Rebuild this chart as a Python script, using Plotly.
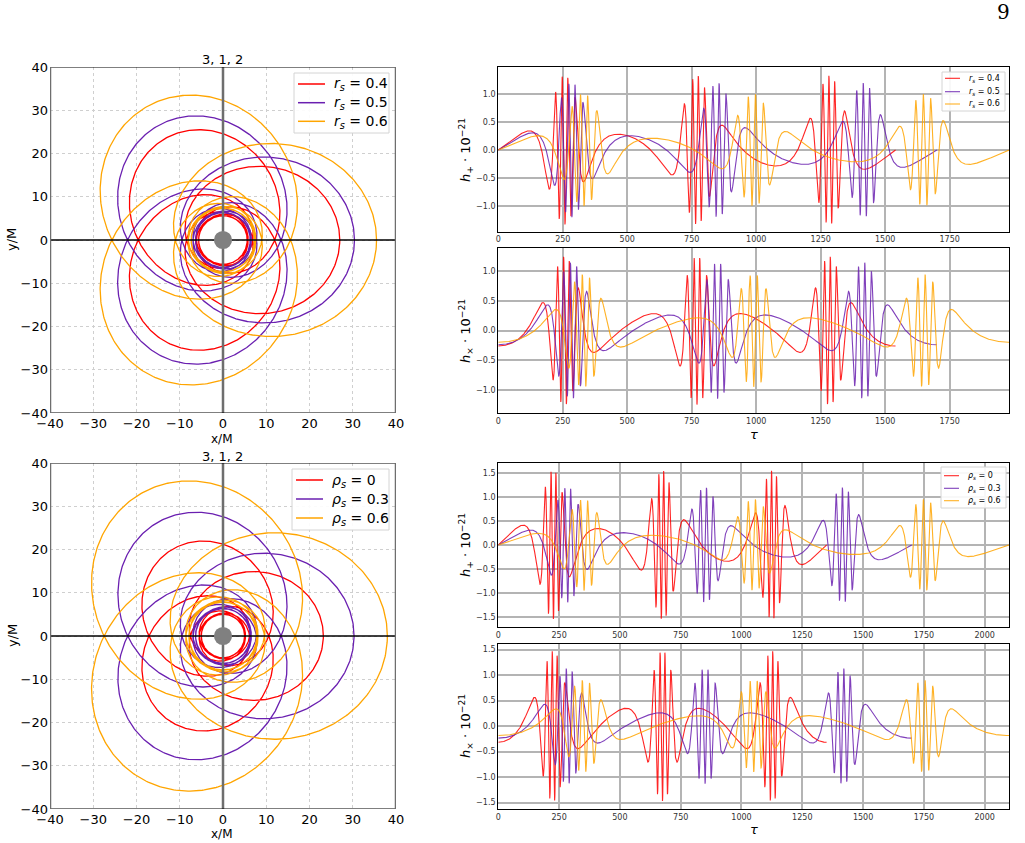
import numpy as np
import plotly.graph_objects as go

# ---------------- values ----------------
COLORS = ["#ff0000", "#6a1fb0", "#ffa500"]

ORBIT_Z, ORBIT_W, ORBIT_V = 3, 1, 2          # periodic orbit (z, w, v)

RS_LABELS = ["0.4", "0.5", "0.6"]
RS_APO = [27.0, 30.4, 35.5]                 # apoapsis radius  (x/M)
RS_PERI = [5.6, 6.3, 7.3]                   # whirl radius
RS_TAU_END = [1540.0, 1700.0, 1980.0]       # end of waveform (tau)
RS_HPLUS_PEAK = [1.33, 1.20, 1.00]
RS_HCROSS_PEAK = [1.25, 1.15, 0.95]

RHO_LABELS = ["0", "0.3", "0.6"]
RHO_APO = [23.2, 30.3, 38.0]
RHO_PERI = [5.0, 6.3, 7.8]
RHO_TAU_END = [1350.0, 1700.0, 2100.0]
RHO_HPLUS_PEAK = [1.55, 1.20, 0.95]
RHO_HCROSS_PEAK = [1.47, 1.13, 0.90]

ORBIT_TICKS = [-40, -30, -20, -10, 0, 10, 20, 30, 40]
TOP_TAU_TICKS = [0, 250, 500, 750, 1000, 1250, 1500, 1750]
BOT_TAU_TICKS = [0, 250, 500, 750, 1000, 1250, 1500, 1750, 2000]
TOP_H_TICKS = [-1.0, -0.5, 0.0, 0.5, 1.0]
BOT_H_TICKS = [-1.5, -1.0, -0.5, 0.0, 0.5, 1.0, 1.5]


def cumtrap(f, x):
    return np.concatenate([[0.0], np.cumsum(0.5 * (f[1:] + f[:-1]) * np.diff(x))])


def build_orbit(r_apo, r_peri, tau_end, n_fine=150001, n_out=4000):
    p = 2.0 * r_apo * r_peri / (r_apo + r_peri)
    e = (r_apo - r_peri) / (r_apo + r_peri)
    chi = np.linspace(np.pi, np.pi + 2.0 * np.pi * ORBIT_Z, n_fine)
    cosc = np.cos(chi)
    # azimuth swept per radial period: 2*pi*(1 + q), q = w + v/z
    target = 2.0 * np.pi * (1.0 + ORBIT_W + ORBIT_V / ORBIT_Z) * ORBIT_Z

    def total_phi(m):
        return np.trapezoid(np.sqrt(p / (p - 2.0 * m * (3.0 + e * cosc))), chi)

    lo, hi = 1e-6, p / (6.0 + 2.0 * e) * (1.0 - 1e-12)
    for _ in range(90):
        mid = 0.5 * (lo + hi)
        if total_phi(mid) < target:
            lo = mid
        else:
            hi = mid
    m = 0.5 * (lo + hi)
    g = np.sqrt(p / (p - 2.0 * m * (3.0 + e * cosc)))
    phi = cumtrap(g, chi)
    phi *= target / phi[-1]
    r = p / (1.0 + e * cosc)
    L = np.sqrt(p * p * m / (p - m * (3.0 + e * e)))
    tau = cumtrap(r * r / L * g, chi)
    tau *= tau_end / tau[-1]

    phi_u = np.linspace(0.0, phi[-1], n_out)
    r_u = np.interp(phi_u, phi, r)
    ox, oy = r_u * np.cos(phi_u), r_u * np.sin(phi_u)

    tau_u = np.linspace(0.0, tau_end, n_out)
    r_t = np.interp(tau_u, tau, r)
    phi_t = np.interp(tau_u, tau, phi)
    return ox, oy, tau_u, r_t, phi_t


fig = go.Figure()


def add_set(labels, apo, peri, tend, hp_peak, hx_peak, sym, axes):
    ax_o, ax_p, ax_x = axes
    for i in range(3):
        ox, oy, tau, r, phi = build_orbit(apo[i], peri[i], tend[i])
        name = "<i>%s<sub>s</sub></i> = %s" % (sym, labels[i])
        fig.add_trace(go.Scatter(x=ox, y=oy, mode="lines", name=name, showlegend=False,
                                 line=dict(color=COLORS[i], width=1.3),
                                 xaxis=ax_o[0], yaxis=ax_o[1]))
        hp = hp_peak[i] * (peri[i] / r) * np.sin(2.0 * phi)
        hx = -hx_peak[i] * (peri[i] / r) * np.cos(2.0 * phi)
        fig.add_trace(go.Scatter(x=tau, y=hp, mode="lines", name=name, opacity=0.85,
                                 showlegend=False,
                                 line=dict(color=COLORS[i], width=1.1),
                                 xaxis=ax_p[0], yaxis=ax_p[1]))
        fig.add_trace(go.Scatter(x=tau, y=hx, mode="lines", name=name, opacity=0.85,
                                 showlegend=False,
                                 line=dict(color=COLORS[i], width=1.1),
                                 xaxis=ax_x[0], yaxis=ax_x[1]))


add_set(RS_LABELS, RS_APO, RS_PERI, RS_TAU_END, RS_HPLUS_PEAK, RS_HCROSS_PEAK, "r",
        (("x", "y"), ("x2", "y2"), ("x3", "y3")))
add_set(RHO_LABELS, RHO_APO, RHO_PERI, RHO_TAU_END, RHO_HPLUS_PEAK, RHO_HCROSS_PEAK, "ρ",
        (("x4", "y4"), ("x5", "y5"), ("x6", "y6")))

W, H = 1025.0, 843.0


def px(v):
    return v / W


def py(v):
    return 1.0 - v / H


ORB_X = [px(50), px(396)]
RIGHT_X = [px(498.3), px(1009)]


def orbit_axis(dom, anchor):
    return dict(domain=dom, anchor=anchor, range=[-40, 40], tickvals=ORBIT_TICKS,
                automargin=False,
                showgrid=True, gridcolor="#cfcfcf", griddash="dot", gridwidth=1,
                zeroline=False, showline=False, ticks="", ticklabelstandoff=1,
                tickfont=dict(size=13, color="black"))


def wave_xaxis(dom, anchor, rng, ticks):
    return dict(domain=dom, anchor=anchor, range=rng, tickvals=ticks, automargin=False,
                showgrid=True, gridcolor="#b4b4b4", gridwidth=1.5, zeroline=False,
                showline=True, mirror=True, linecolor="black", linewidth=1.3,
                ticks="", tickfont=dict(size=8, color="#333333"))


def wave_yaxis(dom, anchor, rng, ticks):
    return dict(domain=dom, anchor=anchor, range=rng, tickvals=ticks, tickformat=".1f",
                automargin=False,
                showgrid=True, gridcolor="#b4b4b4", gridwidth=1.5, zeroline=False,
                showline=True, mirror=True, linecolor="black", linewidth=1.3,
                ticks="", tickfont=dict(size=8, color="#333333"))


layout = dict(
    width=1025, height=843, autosize=False, margin=dict(l=0, r=0, t=0, b=0, pad=0),
    paper_bgcolor="white", plot_bgcolor="white", showlegend=False,
    font=dict(family="DejaVu Sans", color="black"),
    xaxis=orbit_axis(ORB_X, "y"),
    yaxis=orbit_axis([py(413), py(67)], "x"),
    xaxis2=wave_xaxis(RIGHT_X, "y2", [0, 1980], TOP_TAU_TICKS),
    yaxis2=wave_yaxis([py(231.7), py(67.3)], "x2", [-1.46, 1.48], TOP_H_TICKS),
    xaxis3=wave_xaxis(RIGHT_X, "y3", [0, 1980], TOP_TAU_TICKS),
    yaxis3=wave_yaxis([py(413), py(248.3)], "x3", [-1.39, 1.39], TOP_H_TICKS),
    xaxis4=orbit_axis(ORB_X, "y4"),
    yaxis4=orbit_axis([py(809), py(463)], "x4"),
    xaxis5=wave_xaxis(RIGHT_X, "y5", [0, 2100], BOT_TAU_TICKS),
    yaxis5=wave_yaxis([py(627.3), py(463)], "x5", [-1.72, 1.71], BOT_H_TICKS),
    xaxis6=wave_xaxis(RIGHT_X, "y6", [0, 2100], BOT_TAU_TICKS),
    yaxis6=wave_yaxis([py(809.3), py(644)], "x6", [-1.63, 1.61], BOT_H_TICKS),
)
fig.update_layout(**layout)

shapes = []
for xa, ya in (("x", "y"), ("x4", "y4")):
    shapes += [
        dict(type="line", xref=xa, yref=ya, x0=-40, x1=40, y0=0, y1=0,
             line=dict(color="black", width=1.3), layer="above"),
        dict(type="line", xref=xa, yref=ya, x0=0, x1=0, y0=-40, y1=40,
             line=dict(color="#6e6e6e", width=2.5), layer="above"),
        dict(type="line", xref=xa, yref=ya, x0=-40, x1=40, y0=40, y1=40,
             line=dict(color="black", width=1.1), layer="above"),
        dict(type="line", xref=xa, yref=ya, x0=-40, x1=40, y0=-40, y1=-40,
             line=dict(color="black", width=1.1), layer="above"),
        dict(type="line", xref=xa, yref=ya, x0=-40, x1=-40, y0=-40, y1=40,
             line=dict(color="#6e6e6e", width=2.5), layer="above"),
        dict(type="line", xref=xa, yref=ya, x0=40, x1=40, y0=-40, y1=40,
             line=dict(color="#6e6e6e", width=2.5), layer="above"),
        dict(type="circle", xref=xa, yref=ya, x0=-2.1, x1=2.1, y0=-2.1, y1=2.1,
             fillcolor="#808080", line=dict(width=0), layer="above"),
    ]

ann = []


def note(text, x, y, size, angle=0, family="DejaVu Sans", anchor="center", color="black"):
    ann.append(dict(text=text, x=px(x), y=py(y), xref="paper", yref="paper",
                    showarrow=False, textangle=angle, xanchor=anchor, yanchor="middle",
                    font=dict(size=size, color=color, family=family)))


def legend_box(x0, x1, y0, y1, rows, lx0, lx1, tx, sym, labels, size, lw, opacity):
    shapes.append(dict(type="rect", xref="paper", yref="paper",
                       x0=px(x0), x1=px(x1), y0=py(y1), y1=py(y0),
                       line=dict(color="#d4d4d4", width=1),
                       fillcolor="rgba(255,255,255,0.9)", layer="above"))
    for i, yy in enumerate(rows):
        shapes.append(dict(type="line", xref="paper", yref="paper",
                           x0=px(lx0), x1=px(lx1), y0=py(yy), y1=py(yy), opacity=opacity,
                           line=dict(color=COLORS[i], width=lw), layer="above"))
        note("<i>%s<sub>s</sub></i> = %s" % (sym, labels[i]), tx, yy + 0.5, size,
             anchor="left")


legend_box(294, 389, 73, 133, [84, 102.7, 121.3], 298, 325, 332, "r", RS_LABELS, 14, 1.5, 1.0)
legend_box(292, 389, 469, 530, [480, 499, 518], 296, 323, 330, "ρ", RHO_LABELS, 14, 1.5, 1.0)
legend_box(942, 1005, 72, 111, [78.3, 91.7, 104], 945, 960, 967, "r", RS_LABELS, 8, 1.1, 0.85)
legend_box(941, 1006, 467, 508, [475.7, 488.3, 500.7], 944, 959, 966, "ρ", RHO_LABELS, 8, 1.1, 0.85)

note("3, 1, 2", 222, 60, 13)
note("3, 1, 2", 222, 456, 13)
note("x/M", 222, 439, 12)
note("x/M", 222, 834, 12)
note("y/M", 12, 240, 13, -90)
note("y/M", 12, 636, 13, -90)
note("<i>h</i><sub>+</sub> · 10<sup>−21</sup>", 466, 150, 13, -90)
note("<i>h</i><sub>×</sub> · 10<sup>−21</sup>", 466, 331, 13, -90)
note("<i>h</i><sub>+</sub> · 10<sup>−21</sup>", 466, 545, 13, -90)
note("<i>h</i><sub>×</sub> · 10<sup>−21</sup>", 466, 726, 13, -90)
note("<i>τ</i>", 754, 434, 13)
note("<i>τ</i>", 754, 829, 13)
note("9", 1003, 12, 20, 0, "DejaVu Serif")
fig.update_layout(annotations=ann, shapes=shapes)

fig.write_html("out.html")
